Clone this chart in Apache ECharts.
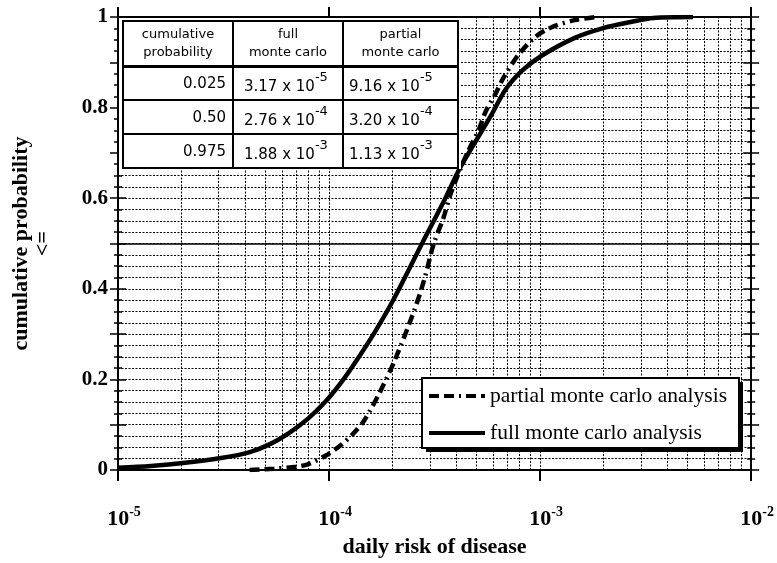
<!DOCTYPE html>
<html><head><meta charset="utf-8">
<script src="https://cdn.jsdelivr.net/npm/echarts@6/dist/echarts.min.js"></script>
<style>html,body{margin:0;padding:0;background:#fff}#c{width:777px;height:563px}</style>
</head><body><div id="c"></div>
<script>
// ---- data ----
const fullRisk = [1e-5, 1.43e-5, 2.08e-5, 3.13e-5, 4.18e-5, 5.19e-5, 6.43e-5, 7.98e-5, 9.57e-5, 1.14e-4, 1.32e-4, 1.65e-4, 2.03e-4, 2.75e-4, 3.48e-4, 4.14e-4, 4.81e-4, 5.83e-4, 6.86e-4, 8.24e-4, 1.02e-3, 1.46e-3, 2.01e-3, 2.69e-3, 3.44e-3, 5.3e-3];
const fullProb = [0.005, 0.009, 0.016, 0.027, 0.039, 0.056, 0.081, 0.114, 0.150, 0.193, 0.235, 0.305, 0.378, 0.499, 0.591, 0.664, 0.716, 0.781, 0.840, 0.882, 0.915, 0.954, 0.976, 0.989, 0.998, 1.0];
const partialRisk = [4.2e-5, 5.5e-5, 7.0e-5, 7.98e-5, 9.57e-5, 1.14e-4, 1.3e-4, 1.47e-4, 1.75e-4, 2.06e-4, 2.55e-4, 2.84e-4, 3.13e-4, 3.48e-4, 3.79e-4, 4.47e-4, 5.13e-4, 5.53e-4, 6.17e-4, 6.71e-4, 7.88e-4, 9.49e-4, 1.14e-3, 1.46e-3, 1.87e-3];
const partialProb = [0.0, 0.003, 0.007, 0.013, 0.031, 0.055, 0.08, 0.11, 0.174, 0.245, 0.356, 0.424, 0.499, 0.556, 0.613, 0.695, 0.752, 0.792, 0.832, 0.866, 0.916, 0.956, 0.978, 0.993, 1.0];
const xTickExponents = ['-5', '-4', '-3', '-2'];
const yTickLabels = ['0', '0.2', '0.4', '0.6', '0.8', '1'];
const legendNames = ['partial monte carlo analysis', 'full monte carlo analysis'];
const tableHeader = ['cumulative\nprobability', 'full\nmonte carlo', 'partial\nmonte carlo'];
const tableCumProb = ['0.025', '0.50', '0.975'];
const tableFullMantissa = ['3.17', '2.76', '1.88'];
const tableFullExp = ['-5', '-4', '-3'];
const tablePartialMantissa = ['9.16', '3.20', '1.13'];
const tablePartialExp = ['-5', '-4', '-3'];

const SERIF = '"Liberation Serif", "Times New Roman", serif';
const SANS = '"DejaVu Sans", Verdana, sans-serif';
const DOT = [2, 1.5];
const GRIDC = '#000';

// minor vertical grid positions (2..9 x decade), as start/end coordinate pairs
const minorGrid = [];
for (let e = -5; e <= -3; e++) {
  for (let m = 2; m <= 9; m++) {
    const v = m * Math.pow(10, e);
    minorGrid.push([{ coord: [v, 0] }, { coord: [v, 1] }]);
  }
}

function yAxisCfg(pos, inside, labels) {
  return {
    type: 'value', position: pos, min: 0, max: 1, interval: 0.1,
    axisLine: { show: true, onZero: false, lineStyle: { color: '#000', width: 2 } },
    axisTick: { show: true, inside: inside, length: 8, lineStyle: { color: '#000', width: 1.5 } },
    minorTick: { show: true, splitNumber: 4, length: 4, lineStyle: { color: '#000', width: 1.5 } },
    axisLabel: labels ? {
      show: true, margin: 10, color: '#000', fontFamily: SERIF, fontWeight: 'bold', fontSize: 21,
      formatter: function (v) {
        const i = Math.round(v / 0.2);
        return Math.abs(v - i * 0.2) < 1e-6 ? yTickLabels[i] : '';
      }
    } : { show: false },
    splitLine: { show: labels, lineStyle: { color: GRIDC, type: DOT, width: 1 } },
    minorSplitLine: { show: labels, lineStyle: { color: GRIDC, type: DOT, width: 1 } },
    name: labels ? 'cumulative probability\n<=' : '',
    nameLocation: 'middle', nameRotate: 90, nameGap: 64,
    nameTextStyle: { color: '#000', fontFamily: SERIF, fontWeight: 'bold', fontSize: 22, lineHeight: 22 }
  };
}

// ---- table + legend frame graphics ----
const colX = [123, 233, 343, 458];
const rowY = [21, 66, 100, 134, 168];
const gfx = [{
  type: 'rect', shape: { x: 119, y: 18, width: 342, height: 151 },
  style: { fill: '#fff' }, z: 30, silent: true
}, {
  type: 'rect', shape: { x: 426, y: 382, width: 317, height: 70 },
  style: { fill: '#000' }, z: 15, silent: true
}, {
  type: 'rect', shape: { x: 422, y: 378, width: 317, height: 70 },
  style: { fill: '#fff', stroke: '#000', lineWidth: 2 }, z: 16, silent: true
}];
for (let r = 0; r < 4; r++) {
  for (let c = 0; c < 3; c++) {
    gfx.push({
      type: 'rect',
      shape: { x: colX[c], y: rowY[r] + (r === 1 ? 1 : 0), width: colX[c + 1] - colX[c], height: rowY[r + 1] - rowY[r] - (r === 1 ? 1 : 0) },
      style: { fill: '#fff', stroke: '#000', lineWidth: 2 }, z: 31, silent: true
    });
  }
}
for (let c = 0; c < 3; c++) {
  gfx.push({
    type: 'text', z: 32, silent: true,
    style: {
      text: tableHeader[c], x: (colX[c] + colX[c + 1]) / 2, y: (rowY[0] + rowY[1]) / 2,
      align: 'center', verticalAlign: 'middle', fill: '#000',
      fontFamily: SANS, fontSize: 13, lineHeight: 18
    }
  });
}
const richCell = {
  m: { fontFamily: SANS, fontSize: 15, lineHeight: 24, verticalAlign: 'bottom', fill: '#000' },
  e: { fontFamily: SANS, fontSize: 13, lineHeight: 14, verticalAlign: 'top', fill: '#000' }
};
for (let r = 0; r < 3; r++) {
  const yMid = (rowY[r + 1] + rowY[r + 2]) / 2;
  gfx.push({
    type: 'text', z: 32, silent: true,
    style: {
      text: tableCumProb[r], x: colX[1] - 7, y: yMid + 1, align: 'right', verticalAlign: 'middle',
      fill: '#000', fontFamily: SANS, fontSize: 15
    }
  });
  gfx.push({
    type: 'text', z: 32, silent: true,
    style: {
      text: '{m|' + tableFullMantissa[r] + ' x 10}{e|' + tableFullExp[r] + '}', x: colX[1] + 11, y: yMid,
      align: 'left', verticalAlign: 'middle', rich: richCell
    }
  });
  gfx.push({
    type: 'text', z: 32, silent: true,
    style: {
      text: '{m|' + tablePartialMantissa[r] + ' x 10}{e|' + tablePartialExp[r] + '}', x: colX[2] + 6, y: yMid,
      align: 'left', verticalAlign: 'middle', rich: richCell
    }
  });
}

const chart = echarts.init(document.getElementById('c'), null, { renderer: 'canvas' });
chart.setOption({
  animation: false,
  backgroundColor: '#fff',
  grid: { left: 118, right: 18, top: 17, bottom: 91 },
  xAxis: [{
    type: 'log', logBase: 10, min: 1e-5, max: 1e-2, position: 'bottom',
    axisLine: { show: true, onZero: false, lineStyle: { color: '#000', width: 2 } },
    axisTick: { show: true, inside: false, length: 11, lineStyle: { color: '#000', width: 2 } },
    axisLabel: {
      margin: 35,
      formatter: function (v) {
        const i = Math.round(Math.log10(v)) + 5;
        return '{p|}{t|10}{s|' + xTickExponents[i] + '}';
      },
      rich: {
        p: { width: 12 },
        t: { fontFamily: SERIF, fontWeight: 'bold', fontSize: 22, lineHeight: 25, verticalAlign: 'bottom', color: '#000' },
        s: { fontFamily: SERIF, fontWeight: 'bold', fontSize: 14, lineHeight: 14, verticalAlign: 'top', color: '#000' }
      }
    },
    splitLine: { show: true, lineStyle: { color: GRIDC, type: DOT, width: 1 } },
    name: 'daily risk of disease', nameLocation: 'middle', nameGap: 66,
    nameTextStyle: { color: '#000', fontFamily: SERIF, fontWeight: 'bold', fontSize: 22 }
  }, {
    type: 'log', logBase: 10, min: 1e-5, max: 1e-2, position: 'top',
    axisLine: { show: true, onZero: false, lineStyle: { color: '#000', width: 2 } },
    axisTick: { show: true, inside: false, length: 10, lineStyle: { color: '#000', width: 2 } },
    axisLabel: { show: false }, splitLine: { show: false }
  }],
  yAxis: [yAxisCfg('left', false, true), yAxisCfg('left', true, false), yAxisCfg('right', false, false), yAxisCfg('right', true, false)],
  legend: {
    data: legendNames, orient: 'vertical', left: 422, top: 378,
    itemWidth: 56, itemHeight: 14, itemGap: 15, padding: [7, 13, 6, 5],
    backgroundColor: 'transparent', borderWidth: 0,
    textStyle: { fontFamily: SERIF, fontSize: 21.5, color: '#000' },
    itemStyle: { opacity: 0 },
    lineStyle: { width: 4, color: '#000' },
    selectedMode: false, z: 20
  },
  graphic: gfx,
  series: [{
    type: 'line', data: [[1e-4, 0.5]], z: 1, silent: true, xAxisIndex: 0, yAxisIndex: 0,
    symbol: 'none', showSymbol: false, lineStyle: { opacity: 0 },
    markLine: {
      silent: true, symbol: 'none', label: { show: false }, animation: false,
      lineStyle: { color: GRIDC, type: DOT, width: 1 },
      data: minorGrid.concat([{ yAxis: 0.5, lineStyle: { type: 'solid', width: 1.5, color: '#000' } }])
    }
  }, {
    name: legendNames[0], type: 'line', z: 3, xAxisIndex: 0, yAxisIndex: 0,
    data: partialRisk.map((x, i) => [x, partialProb[i]]),
    symbol: 'none', showSymbol: false, smooth: 0.3,
    itemStyle: { color: '#000', opacity: 0 },
    lineStyle: { color: '#000', width: 4.5, type: [10, 5, 10, 5, 2, 5] }
  }, {
    name: legendNames[1], type: 'line', z: 3, xAxisIndex: 0, yAxisIndex: 0,
    data: fullRisk.map((x, i) => [x, fullProb[i]]),
    symbol: 'none', showSymbol: false, smooth: 0.3,
    itemStyle: { color: '#000', opacity: 0 },
    lineStyle: { color: '#000', width: 4.5 }
  }]
});
</script></body></html>
